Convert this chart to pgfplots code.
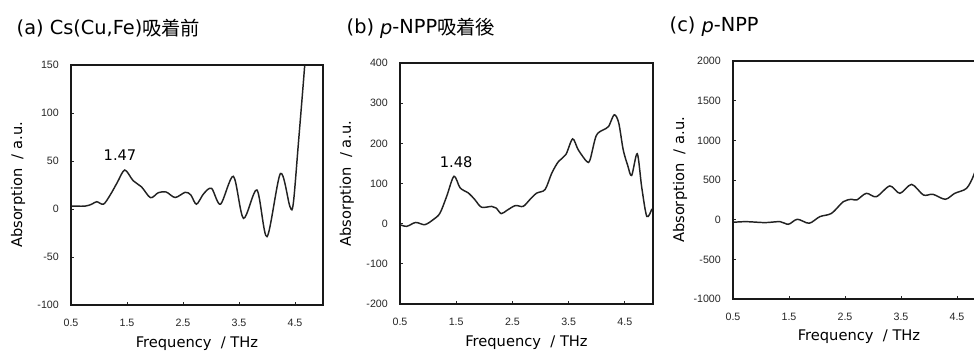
\documentclass[border=0pt]{standalone}
\usepackage{pgfplots}
\pgfplotsset{compat=1.18}
\usepackage{fontspec}
\setmainfont{DejaVu Sans}
\newfontfamily\jp{Noto Sans CJK JP}
\newfontfamily\tickfont{Liberation Sans}
\definecolor{ink}{HTML}{222222}
\tikzset{axframe/.style={black!90, line width=1pt}}
\pgfplotsset{
 panel/.style={
  scale only axis, anchor=south west,
  xmin=0.5, xmax=5, xtick={0.5,1.5,2.5,3.5,4.5}, xticklabels={0.5,1.5,2.5,3.5,4.5},
  xtick pos=bottom, ytick pos=left, tick align=inside, major tick length=2.5pt,
  ticklabel style={font=\tickfont\fontsize{8}{9}\selectfont, text=black!85},
  xticklabel shift=7pt, yticklabel shift=5.6pt,
  axis line style={line width=1pt, black!90},
  every tick/.append style={black!85, line width=0.6pt},
  xlabel={Frequency\ \ / THz}, ylabel={Absorption\ \ / a.u.},
  label style={font=\fontsize{11}{13}\selectfont},
  xlabel style={at={(axis description cs:0.5,-0.175)}, anchor=base},
  ylabel style={at={(axis description cs:-0.21,0.5)}, anchor=center},
 },
 curve/.style={ink, line width=1.1pt, smooth, tension=0.5, mark=none},
}
\begin{document}
\begin{tikzpicture}
% (a)
\begin{axis}[panel, name=A, at={(53.25pt,34.5pt)}, width=189pt, height=180pt,
  ymin=-100, ymax=150, ytick={-100,-50,0,50,100,150}, yticklabels={-100,-50,0,50,100,150}]
\addplot[curve] coordinates {
(0.5,3) (0.75,3) (0.87,5) (0.96,7.6) (1.08,5) (1.2,14.6) (1.33,28) (1.46,40.6)
(1.61,29.5) (1.76,23) (1.92,11.8) (2.06,17) (2.2,17.7) (2.36,12) (2.54,17.4)
(2.64,14.6) (2.74,5) (2.87,16) (3.01,21.5) (3.17,5) (3.40,34) (3.58,-9.7)
(3.82,19.8) (4.0,-28.8) (4.24,37) (4.41,2.4) (4.47,6) (4.56,68) (4.68,155) (4.75,220)};
\node[font=\fontsize{11}{13}\selectfont] at (axis cs:1.375,56) {1.47};
\end{axis}
% (b)
\begin{axis}[panel, name=B, at={(300pt,35.25pt)}, width=189.75pt, height=180.75pt,
  ymin=-200, ymax=400, ytick={-200,-100,0,100,200,300,400}, yticklabels={-200,-100,0,100,200,300,400}]
\addplot[curve] coordinates {
(0.5,-2.5) (0.62,-6.6) (0.78,3) (0.94,-2.5) (1.09,10) (1.21,26) (1.33,68) (1.46,118)
(1.57,89) (1.72,76) (1.83,60) (1.95,41) (2.13,43) (2.21,39) (2.30,25) (2.40,33)
(2.55,45) (2.69,43) (2.81,60) (2.93,76) (3.08,85) (3.20,126) (3.32,155) (3.45,172)
(3.57,211) (3.67,184) (3.82,155) (3.88,159) (3.99,219) (4.12,234) (4.21,242) (4.31,271)
(4.39,251) (4.47,184) (4.55,145) (4.62,120) (4.72,174) (4.80,90) (4.89,18) (4.98,37)};
\node[font=\fontsize{11}{13}\selectfont] at (axis cs:1.5,152) {1.48};
\end{axis}
% (c)
\begin{axis}[panel, name=C, at={(549.75pt,39pt)}, width=189pt, height=178.5pt,
  ymin=-1000, ymax=2000, ytick={-1000,-500,0,500,1000,1500,2000}, yticklabels={-1000,-500,0,500,1000,1500,2000}]
\addplot[curve] coordinates {
(0.5,-33) (0.74,-25) (1.07,-37) (1.34,-25) (1.49,-58) (1.65,5) (1.86,-45) (2.05,38)
(2.26,80) (2.47,227) (2.62,257) (2.71,248) (2.88,332) (3.06,290) (3.30,425) (3.48,332)
(3.69,445) (3.90,311) (4.07,320) (4.29,257) (4.46,332) (4.67,395) (4.80,563) (4.90,800)};
\end{axis}
\draw[axframe] (A.south west) rectangle (A.north east);
\draw[axframe] (B.south west) rectangle (B.north east);
\draw[axframe] (C.south west) rectangle (C.north east);
\fill[black!90] ([xshift=-0.6pt]A.south east) rectangle ([xshift=0.6pt]A.north east);
\fill[black!90] ([xshift=-0.6pt]B.south east) rectangle ([xshift=0.6pt]B.north east);
\node[anchor=base west, font=\fontsize{14.5}{17}\selectfont] at (9pt,237pt) {(a) Cs(Cu,Fe){\jp 吸着前}};
\node[anchor=base west, font=\fontsize{14.5}{17}\selectfont] at (256.5pt,237.75pt) {(b) \textit{p}-NPP{\jp 吸着後}};
\node[anchor=base west, font=\fontsize{14.5}{17}\selectfont] at (498.75pt,239.25pt) {(c) \textit{p}-NPP};
\pgfresetboundingbox
\useasboundingbox (0,0) rectangle (730.5pt,263.25pt);
\end{tikzpicture}
\end{document}
